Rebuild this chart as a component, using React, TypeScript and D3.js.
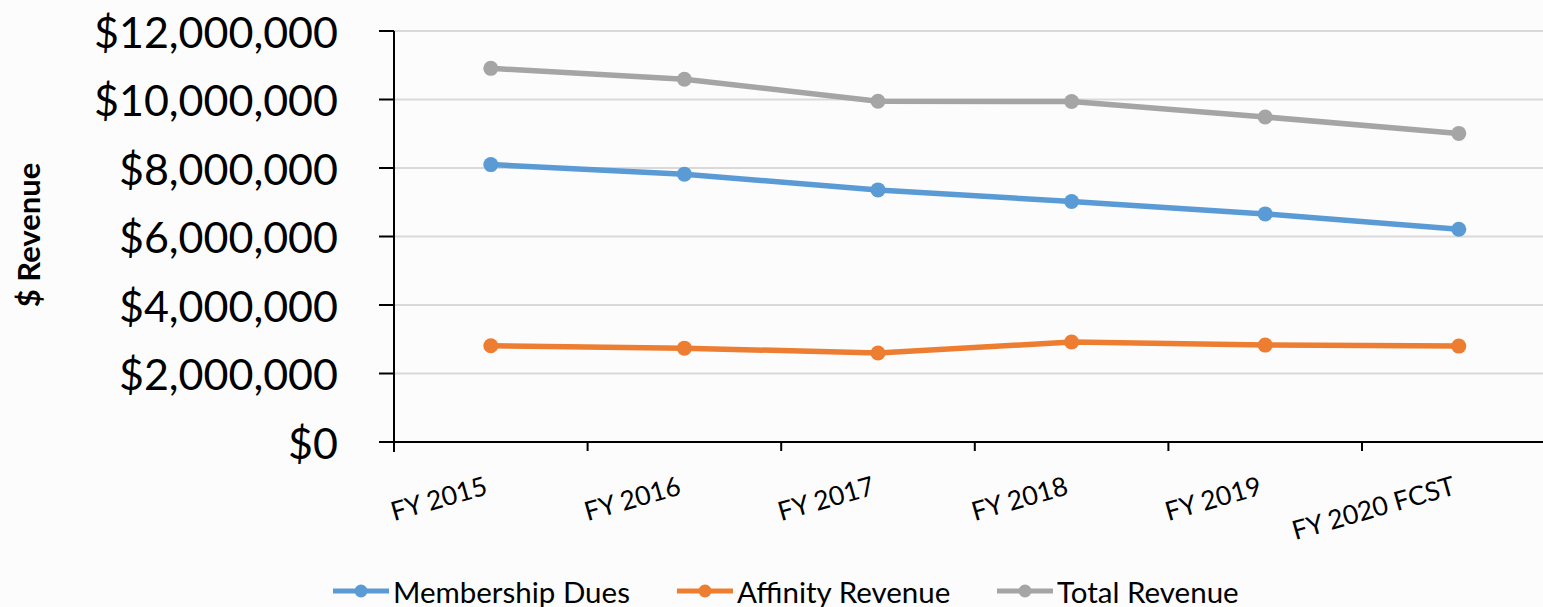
import React from "react";
import * as d3 from "d3";

const categories = ["FY 2015", "FY 2016", "FY 2017", "FY 2018", "FY 2019", "FY 2020 FCST"];
const membershipDues = [8100000, 7820000, 7360000, 7020000, 6660000, 6210000];
const affinityRevenue = [2810000, 2740000, 2600000, 2920000, 2830000, 2800000];
const totalRevenue = [10910000, 10590000, 9950000, 9940000, 9490000, 9010000];
const yTicks = [0, 2000000, 4000000, 6000000, 8000000, 10000000, 12000000];
const seriesNames = ["Membership Dues", "Affinity Revenue", "Total Revenue"];
const seriesColors = ["#5B9BD5", "#ED7D31", "#A5A5A5"];

const W = 1543;
const H = 607;
const left = 394;
const top = 31;
const bottom = 442;
const band = 193.6;

export default function App() {
  const x = d3
    .scaleBand<string>()
    .domain(categories)
    .range([left, left + band * categories.length])
    .paddingInner(0)
    .paddingOuter(0);
  const y = d3.scaleLinear().domain([0, 12000000]).range([bottom, top]);
  const fmt = (v: number) => "$" + d3.format(",")(v);
  const cx = (c: string) => (x(c) as number) + x.bandwidth() / 2;

  const allSeries = [membershipDues, affinityRevenue, totalRevenue];
  const line = d3
    .line<number>()
    .x((_, i) => cx(categories[i]))
    .y((d) => y(d));

  const font = "Lato, 'Open Sans', sans-serif";

  const legendX = [333, 677, 997];

  return (
    <svg
      width={W}
      height={H}
      style={{ position: "absolute", left: 0, top: 0, background: "#FCFCFC" }}
      fontFamily={font}
    >
      <rect x={0} y={0} width={W} height={H} fill="#FCFCFC" />
      {/* gridlines */}
      {yTicks.slice(1).map((t) => (
        <line key={t} x1={left} x2={W} y1={y(t)} y2={y(t)} stroke="#D9D9D9" strokeWidth={2} />
      ))}
      {/* y axis */}
      <line x1={left} x2={left} y1={top} y2={bottom + 10} stroke="#000" strokeWidth={2} />
      {yTicks.map((t) => (
        <g key={"yt" + t}>
          <line x1={379} x2={left} y1={y(t)} y2={y(t)} stroke="#000" strokeWidth={2} />
          <text
            x={338}
            y={y(t)}
            textAnchor="end"
            dominantBaseline="central"
            fontSize={43}
            fill="#000"
          >
            {fmt(t)}
          </text>
        </g>
      ))}
      {/* x axis */}
      <line x1={379} x2={W} y1={bottom} y2={bottom} stroke="#000" strokeWidth={2} />
      {categories.map((c) => (
        <line
          key={"xt" + c}
          x1={(x(c) as number) + x.bandwidth()}
          x2={(x(c) as number) + x.bandwidth()}
          y1={bottom}
          y2={bottom + 9}
          stroke="#000"
          strokeWidth={2}
        />
      ))}
      {categories.map((c) => (
        <text
          key={"xl" + c}
          transform={`translate(${cx(c) - 2},${bottom + 52}) rotate(-16)`}
          textAnchor="end"
          fontSize={26.5}
          fill="#000"
        >
          {c}
        </text>
      ))}
      {/* y label */}
      <text
        transform={`translate(40,235) rotate(-90)`}
        textAnchor="middle"
        fontSize={31}
        fontWeight="bold"
        fill="#000"
      >
        $ Revenue
      </text>
      {/* series */}
      {allSeries.map((s, si) => (
        <g key={"s" + si}>
          <path d={line(s) as string} fill="none" stroke={seriesColors[si]} strokeWidth={5.5} strokeLinejoin="round" />
          {s.map((v, i) => (
            <circle key={i} cx={cx(categories[i])} cy={y(v)} r={7.5} fill={seriesColors[si]} />
          ))}
        </g>
      ))}
      {/* legend */}
      {seriesNames.map((n, i) => (
        <g key={"lg" + n}>
          <line x1={legendX[i]} x2={legendX[i] + 56} y1={591} y2={591} stroke={seriesColors[i]} strokeWidth={5} />
          <circle cx={legendX[i] + 28} cy={591} r={6.5} fill={seriesColors[i]} />
          <text x={legendX[i] + 60} y={591} dominantBaseline="central" fontSize={29.5} fill="#000">
            {n}
          </text>
        </g>
      ))}
    </svg>
  );
}
